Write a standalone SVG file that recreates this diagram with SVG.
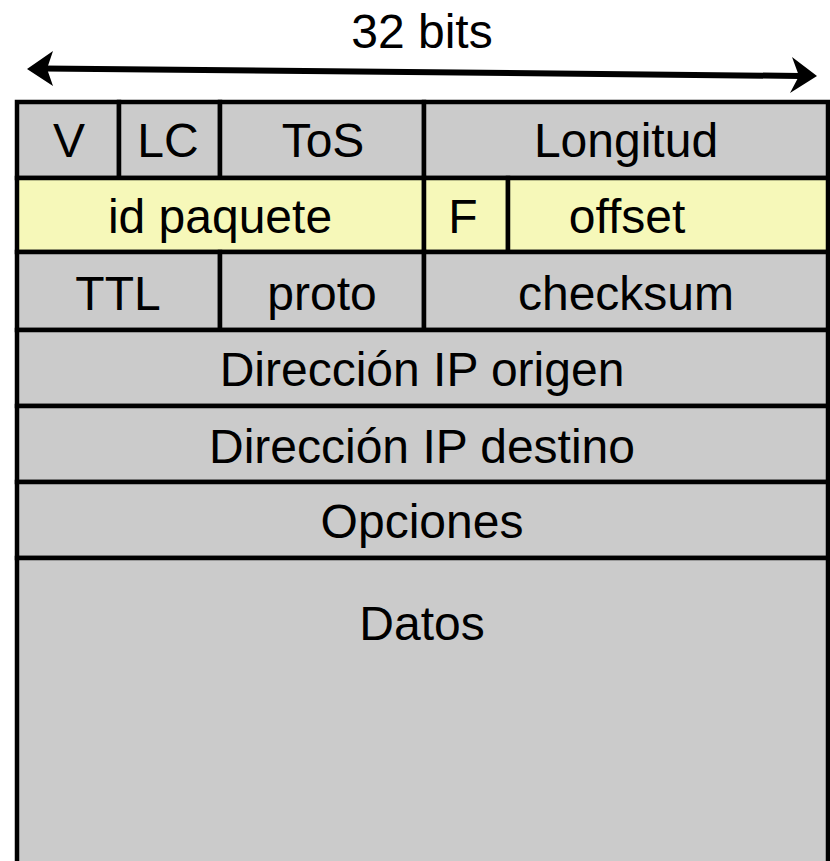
<svg xmlns="http://www.w3.org/2000/svg" width="830" height="861" viewBox="0 0 830 861">
<style>
.g{fill:#cbcbcb;stroke:#000;stroke-width:4.5}
.y{fill:#f6f8b9;stroke:#000;stroke-width:4.5}
text{font-family:"Liberation Sans",Arial,sans-serif;font-size:48px;fill:#000;text-anchor:middle}
</style>
<rect width="830" height="861" fill="#fff"/>
<g id="title"><text x="422" y="48">32 bits</text></g>
<g id="connectors">
<line x1="44" y1="68.5" x2="800" y2="76" stroke="#000" stroke-width="6"/>
<path d="M27,69 L53,51 L47,68.7 L53,86 Z" fill="#000"/>
<path d="M817,76 L792,57 L799,76 L790,93 Z" fill="#000"/>
</g>
<g id="V"><rect class="g" x="17" y="102" width="102" height="76"/><text x="69" y="157">V</text></g>
<g id="LC"><rect class="g" x="119" y="102" width="101" height="76"/><text x="168" y="157">LC</text></g>
<g id="ToS"><rect class="g" x="220" y="102" width="204" height="76"/><text x="323" y="157">ToS</text></g>
<g id="Longitud"><rect class="g" x="424" y="102" width="404" height="76"/><text x="626" y="157">Longitud</text></g>
<g id="idpaquete"><rect class="y" x="17" y="178" width="407" height="74"/><text x="220" y="233">id paquete</text></g>
<g id="F"><rect class="y" x="424" y="178" width="84" height="74"/><text x="463" y="233">F</text></g>
<g id="offset"><rect class="y" x="508" y="178" width="320" height="74"/><text x="627" y="233">offset</text></g>
<g id="TTL"><rect class="g" x="17" y="252" width="203" height="78"/><text x="118" y="310">TTL</text></g>
<g id="proto"><rect class="g" x="220" y="252" width="204" height="78"/><text x="322" y="310">proto</text></g>
<g id="checksum"><rect class="g" x="424" y="252" width="404" height="78"/><text x="626" y="310">checksum</text></g>
<g id="origen"><rect class="g" x="17" y="330" width="811" height="76"/><text x="422" y="386">Dirección IP origen</text></g>
<g id="destino"><rect class="g" x="17" y="406" width="811" height="76"/><text x="422" y="463">Dirección IP destino</text></g>
<g id="opciones"><rect class="g" x="17" y="482" width="811" height="76"/><text x="422" y="538">Opciones</text></g>
<g id="datos"><rect class="g" x="17" y="558" width="811" height="320"/><text x="422" y="640">Datos</text></g>
</svg>
